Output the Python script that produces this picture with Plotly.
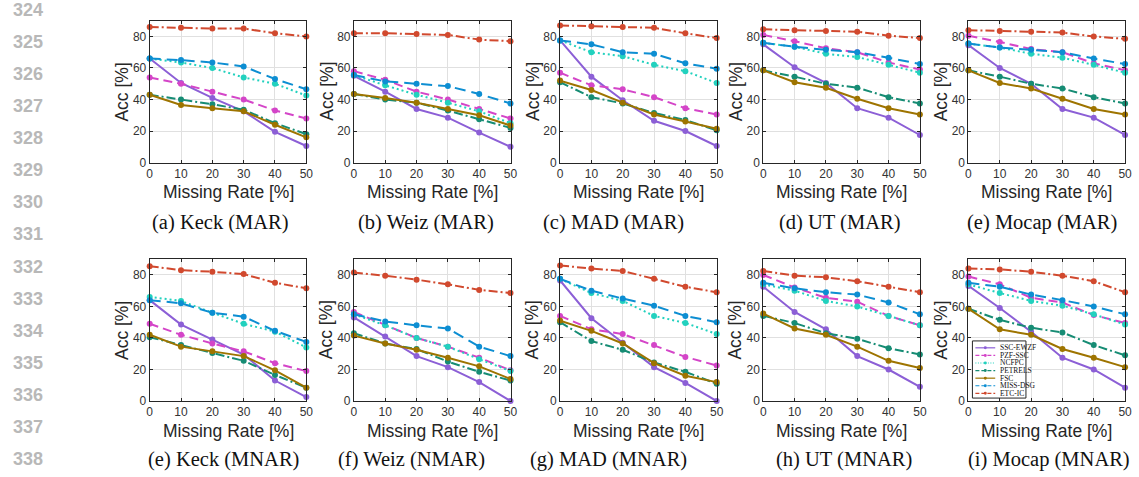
import plotly.graph_objects as go

W, H = 1139, 477

missing_rate = [0, 10, 20, 30, 40, 50]
methods = ["SSC-EWZF", "PZF-SSC", "NCFPC", "PETRELS", "FSC", "MISS-DSG", "ETC-IC"]
y_ticks = [0, 20, 40, 60, 80]
x_ticks = [0, 10, 20, 30, 40, 50]

# values per panel, rows in the order of `methods`
keck_mar = [
    [66, 50.5, 41, 32.5, 19.5, 10.5],
    [54, 50, 45, 40, 33, 28],
    [66, 63.5, 60, 54, 50, 42.5],
    [43, 40, 37, 33.5, 25, 18],
    [43, 36.5, 34.5, 32.5, 24, 16],
    [66, 65, 63.5, 61, 53, 46.5],
    [86, 85.5, 85, 85, 82, 80],
]
weiz_mar = [
    [55, 45, 34, 28.5, 19, 10],
    [58, 52.5, 45, 40, 34, 28],
    [55.5, 49, 43, 38, 32.5, 25],
    [43.5, 40, 38, 33, 27.5, 22],
    [43.5, 41, 38, 34, 30, 23.5],
    [55.5, 51.5, 50, 48.5, 43.5, 37.5],
    [82, 82, 81.5, 81, 78, 77],
]
mad_mar = [
    [77.5, 54.5, 39.5, 26.5, 20, 10.5],
    [57, 49, 46.5, 41.5, 34.5, 30.5],
    [77.5, 70, 67.5, 62, 58, 50.5],
    [51, 41.5, 37.5, 31.5, 27, 20.5],
    [52, 46, 38, 30.5, 26, 21.5],
    [77.5, 75, 70, 69, 63, 59.5],
    [87, 86.5, 86, 85.5, 82, 79],
]
ut_mar = [
    [75, 60.5, 50.5, 34.5, 28.5, 17.5],
    [81, 77, 72.5, 70, 63.5, 59],
    [76, 73.5, 69, 67, 62, 57],
    [58.5, 54.5, 50, 47.5, 41.5, 37.5],
    [58.5, 51, 47.5, 40.5, 34.5, 30.5],
    [76, 73.5, 71.5, 70, 66.5, 62.5],
    [84.5, 84, 83.5, 83, 80.5, 79],
]
mocap_mar = [
    [74.5, 60, 50, 34, 28.5, 17.5],
    [80.5, 76.5, 72, 70, 63, 58.5],
    [75.5, 73, 69, 66.5, 62, 57],
    [58.5, 54.5, 50, 47, 41.5, 37.5],
    [58.5, 50.5, 47, 40.5, 34, 30.5],
    [75.5, 73, 71.5, 70, 66, 62.5],
    [84, 83.5, 83, 82.5, 80, 78.5],
]
keck_mnar = [
    [64, 48.5, 39, 29.5, 13, 2.5],
    [49, 42, 36.5, 31.5, 24, 19],
    [66, 63.5, 56, 49, 44, 34],
    [40.5, 35.5, 30.5, 25.5, 16.5, 8.5],
    [42, 34.5, 31.5, 28.5, 19.5, 8.5],
    [64, 62, 56, 53.5, 44.5, 37.5],
    [85.5, 83, 82, 80.5, 75, 71.5],
]
weiz_nmar = [
    [53, 41, 28.5, 21.5, 12, 0],
    [56.5, 48, 40, 34.5, 27.5, 19.5],
    [55, 48, 40, 34.5, 26.5, 19],
    [43, 36.5, 33, 25, 18.5, 13],
    [41.5, 36.5, 32.5, 27.5, 22, 14],
    [55, 50.5, 48, 46, 34.5, 28.5],
    [81.5, 79.5, 77, 74, 70.5, 68.5],
]
mad_mnar = [
    [76.5, 52.5, 37, 21.5, 11.5, 0],
    [54, 45.5, 42.5, 35.5, 28, 22.5],
    [77.5, 68.5, 63.5, 54, 49.5, 42.5],
    [50, 38, 32.5, 24.5, 18.5, 11],
    [51, 44.5, 36.5, 24, 16, 12],
    [77.5, 70, 65, 60.5, 54, 50],
    [86, 84, 82.5, 77.5, 72.5, 69],
]
ut_mnar = [
    [72.5, 56.5, 45.5, 28.5, 20, 9],
    [80, 72, 65.5, 63, 54, 48],
    [74, 70, 63.5, 60, 54, 48],
    [54, 49.5, 43, 39.5, 33.5, 29.5],
    [55.5, 46, 42, 34.5, 25.5, 21],
    [75, 71.5, 69, 67.5, 62.5, 55],
    [82.5, 79.5, 78.5, 76, 72.5, 69],
]
mocap_mnar = [
    [73, 59, 44, 27.5, 20, 8.5],
    [79, 74, 65.5, 62.5, 54.5, 49.5],
    [74, 68.5, 63.5, 60.5, 55, 48.5],
    [58.5, 51.5, 46.5, 43.5, 35.5, 29],
    [58.5, 45.5, 42, 33, 27.5, 21.5],
    [75, 72.5, 67.5, 64, 60, 55],
    [84, 83.5, 82, 79.5, 76, 69],
]

panels = [keck_mar, weiz_mar, mad_mar, ut_mar, mocap_mar,
          keck_mnar, weiz_nmar, mad_mnar, ut_mnar, mocap_mnar]
captions = ["(a) Keck (MAR)", "(b) Weiz (MAR)", "(c) MAD (MAR)", "(d) UT (MAR)", "(e) Mocap (MAR)",
            "(e) Keck (MNAR)", "(f) Weiz (NMAR)", "(g) MAD (MNAR)", "(h) UT (MNAR)", "(i) Mocap (MNAR)"]
line_numbers = [str(n) for n in range(324, 339)]

# ---- styling ----
colors = ["#8C5FD6", "#D445C8", "#22D1BE", "#168C74", "#9E7400", "#0D8ED2", "#D1492E"]
dashes = ["solid", "9px,5px", "2px,3px", "9px,3px,2px,3px", "solid", "11px,6px", "9px,3px,2px,3px"]

panel_left = [148, 354, 562, 767, 974]
panel_w = 158
row_top = [21, 263]
row_bot = [165, 407]
cap_cx = [[219, 427, 616, 844, 1048], [222, 412, 611, 848, 1055]]
cap_y = [226, 466]
xtitle_y = [195, 437]

def px(x):
    return x / W

def py(y):
    return 1 - y / H

fig = go.Figure()
annotations = []
shapes = []
tick_font = dict(family="Liberation Sans, Arial", size=12, color="#333333")
title_font = dict(family="Liberation Sans, Arial", size=17.5, color="#262626")

for p, data in enumerate(panels):
    r, c = divmod(p, 5)
    idx = p + 1
    xa = "xaxis" if idx == 1 else f"xaxis{idx}"
    ya = "yaxis" if idx == 1 else f"yaxis{idx}"
    xref = "x" if idx == 1 else f"x{idx}"
    yref = "y" if idx == 1 else f"y{idx}"
    L = panel_left[c]
    fig.update_layout({
        xa: dict(domain=[px(L), px(L + panel_w)], anchor=yref, range=[0, 50],
                 tickvals=x_ticks, showgrid=True, gridcolor="#e0e0e0", gridwidth=1,
                 showline=True, linecolor="#262626", linewidth=1, mirror="ticks",
                 ticks="inside", ticklen=3, tickcolor="#262626", zeroline=False,
                 tickfont=tick_font),
        ya: dict(domain=[py(row_bot[r]), py(row_top[r])], anchor=xref, range=[0, 90],
                 tickvals=y_ticks, showgrid=True, gridcolor="#e0e0e0", gridwidth=1,
                 showline=True, linecolor="#262626", linewidth=1, mirror="ticks",
                 ticks="inside", ticklen=3, tickcolor="#262626", zeroline=False,
                 tickfont=tick_font),
    })
    for m, name in enumerate(methods):
        fig.add_trace(go.Scatter(
            x=missing_rate, y=data[m], name=name, mode="lines+markers",
            xaxis=xref, yaxis=yref, showlegend=False, cliponaxis=False,
            line=dict(color=colors[m], width=2, dash=dashes[m]),
            marker=dict(color=colors[m], size=6, symbol="circle"),
        ))
    # axis titles
    annotations.append(dict(xref="paper", yref="paper", x=px(L - 28),
                            y=py((row_top[r] + row_bot[r]) / 2), text="Acc [%]",
                            textangle=-90, showarrow=False, font=title_font,
                            xanchor="center", yanchor="middle"))
    annotations.append(dict(xref="paper", yref="paper", x=px(L + panel_w / 2),
                            y=py(xtitle_y[r]), text="Missing Rate [%]", showarrow=False,
                            font=title_font, xanchor="center", yanchor="middle"))
    annotations.append(dict(xref="paper", yref="paper", x=px(cap_cx[r][c]),
                            y=py(cap_y[r]), text=captions[p], showarrow=False,
                            font=dict(family="Liberation Serif, Times New Roman", size=20.5,
                                      color="#111111"),
                            xanchor="center", yanchor="middle"))

# line numbers in the margin
for i, t in enumerate(line_numbers):
    annotations.append(dict(xref="paper", yref="paper", x=px(25), y=py(10 + 32.57 * i),
                            text=f"<b>{t}</b>", showarrow=False, xanchor="center",
                            yanchor="middle",
                            font=dict(family="Liberation Sans, Arial", size=18, color="#b8b8b8")))

# custom compact legend inside the last panel
lg_left, lg_top, lg_right, lg_bot = 978, 346, 1032, 404
shapes.append(dict(type="rect", xref="paper", yref="paper", x0=px(lg_left), x1=px(lg_right),
                   y0=py(lg_bot), y1=py(lg_top), line=dict(color="#262626", width=1),
                   fillcolor="white", layer="above"))
for m, name in enumerate(methods):
    yy = 353 + 7.7 * m
    shapes.append(dict(type="line", xref="paper", yref="paper", x0=px(981), x1=px(1001),
                       y0=py(yy), y1=py(yy), line=dict(color=colors[m], width=1.2,
                                                      dash="solid" if dashes[m] == "solid" else
                                                      ("1px,1.5px" if m == 2 else "4px,2px")),
                       layer="above"))
    shapes.append(dict(type="circle", xref="paper", yref="paper", x0=px(989.5), x1=px(992.5),
                       y0=py(yy + 1.5), y1=py(yy - 1.5), fillcolor=colors[m],
                       line=dict(color=colors[m], width=0), layer="above"))
    annotations.append(dict(xref="paper", yref="paper", x=px(1004), y=py(yy), text=name,
                            showarrow=False, xanchor="left", yanchor="middle",
                            font=dict(family="Liberation Serif, Times New Roman", size=7.5,
                                      color="#111111")))

fig.update_layout(width=W, height=H, margin=dict(l=0, r=0, t=0, b=0),
                  paper_bgcolor="white", plot_bgcolor="white", showlegend=False,
                  hovermode=False,
                  annotations=annotations, shapes=shapes)

fig.write_html("out.html", config={"displayModeBar": False, "staticPlot": True},
               post_script="document.body.style.margin='0';document.body.style.overflow='hidden';")
